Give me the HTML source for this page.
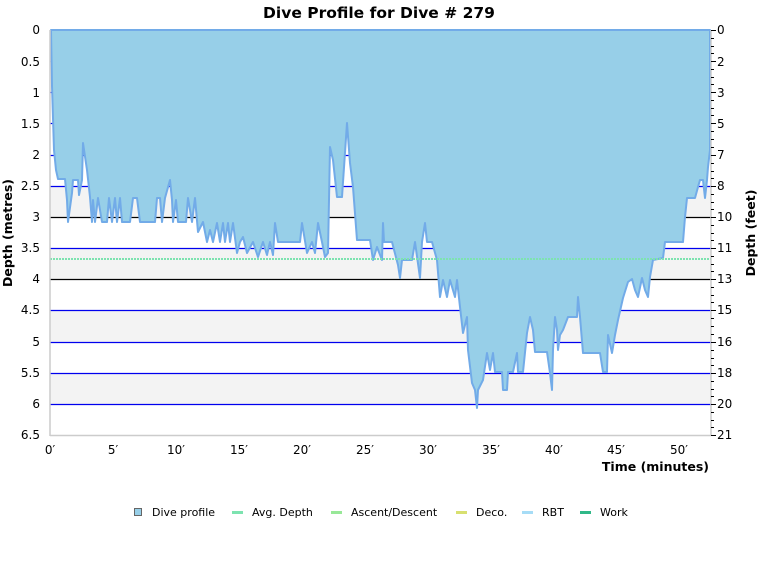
<!DOCTYPE html>
<html><head><meta charset="utf-8"><style>
body{margin:0;background:#fff;}
svg text{font-family:"DejaVu Sans","Liberation Sans",sans-serif;}
</style></head><body>
<svg width="760" height="580" xmlns="http://www.w3.org/2000/svg">
<rect width="760" height="580" fill="#fff"/>
<text x="379" y="18" text-anchor="middle" font-size="15.5" font-weight="bold" fill="#000">Dive Profile for Dive # 279</text>
<g fill="#f3f3f3">
<rect x="50" y="186" width="661" height="31"/>
<rect x="50" y="248" width="661" height="31"/>
<rect x="50" y="310" width="661" height="32"/>
<rect x="50" y="373" width="661" height="31"/>
</g>
<g stroke="#0000ee" stroke-width="1.2">
<line x1="50" x2="711" y1="61.5" y2="61.5"/><line x1="50" x2="711" y1="92.5" y2="92.5"/>
<line x1="50" x2="711" y1="123.5" y2="123.5"/><line x1="50" x2="711" y1="155.5" y2="155.5"/>
<line x1="50" x2="711" y1="186.5" y2="186.5"/><line x1="50" x2="711" y1="248.5" y2="248.5"/>
<line x1="50" x2="711" y1="310.5" y2="310.5"/><line x1="50" x2="711" y1="342.5" y2="342.5"/>
<line x1="50" x2="711" y1="373.5" y2="373.5"/><line x1="50" x2="711" y1="404.5" y2="404.5"/>
</g>
<g stroke="#000" stroke-width="1.2">
<line x1="50" x2="711" y1="217.5" y2="217.5"/><line x1="50" x2="711" y1="279.5" y2="279.5"/>
</g>
<path fill="#97cfe8" stroke="#72abe8" stroke-width="2" stroke-linejoin="round" d="M51,30 L52,86 L54,150 L56,170 L58,179 L65,179 L67,200 L68,222 L72,193 L73,180 L78,180 L79,195 L82,180 L83,143 L87,170 L90,197 L92,222 L93,200 L95,222 L98,198 L102,222 L107,222 L109,198 L112,222 L115,198 L117,222 L120,198 L122,222 L130,222 L133,198 L137,198 L140,222 L155,222 L157,198 L160,198 L162,222 L165,198 L170,180 L172,200 L173,222 L176,200 L178,222 L186,222 L188,198 L192,222 L195,198 L198,232 L203,222 L207,242 L210,230 L213,242 L217,223 L220,242 L223,223 L225,242 L228,223 L230,242 L233,223 L237,253 L240,242 L243,237 L247,253 L253,242 L258,257 L263,242 L267,255 L270,242 L273,255 L275,223 L278,242 L300,242 L302,223 L307,253 L312,242 L315,253 L318,223 L322,242 L325,257 L328,253 L330,147 L333,160 L337,197 L342,197 L347,123 L350,163 L353,187 L357,240 L370,240 L373,260 L377,247 L382,260 L383,223 L384,242 L392,242 L398,265 L400,278 L402,260 L412,260 L415,242 L420,278 L422,242 L425,223 L427,242 L432,242 L437,260 L440,297 L443,280 L447,297 L450,280 L455,297 L457,280 L460,307 L463,333 L467,317 L468,350 L472,383 L475,390 L477,408 L478,390 L483,380 L487,353 L490,370 L493,353 L495,372 L502,372 L503,390 L507,390 L508,372 L513,372 L517,353 L518,372 L523,372 L527,333 L530,317 L533,330 L535,352 L547,352 L550,373 L552,390 L553,350 L555,317 L557,330 L558,350 L560,335 L563,330 L568,317 L577,317 L578,297 L580,317 L583,353 L600,353 L603,372 L607,372 L608,335 L612,353 L615,335 L618,320 L623,298 L628,282 L632,279 L635,290 L638,297 L642,278 L645,290 L648,297 L650,277 L653,260 L663,258 L665,242 L683,242 L685,217 L687,198 L695,198 L698,187 L700,180 L703,180 L705,198 L707,180 L708,167 L710,150 L710,30 Z"/>
<line x1="50" x2="711" y1="259" y2="259" stroke="#7de3b0" stroke-width="2" stroke-dasharray="2,1"/>
<g stroke="#ccc" stroke-width="1.5" fill="none">
<line x1="50" x2="50" y1="30" y2="436"/><line x1="50" x2="711" y1="435.5" y2="435.5"/><line x1="711" x2="711" y1="30" y2="436"/>
</g>
<g font-size="12" fill="#000" text-anchor="end">
<text x="40" y="34">0</text><text x="40" y="66">0.5</text><text x="40" y="97">1</text><text x="40" y="128">1.5</text>
<text x="40" y="159">2</text><text x="40" y="190">2.5</text><text x="40" y="221">3</text><text x="40" y="252">3.5</text>
<text x="40" y="283">4</text><text x="40" y="314">4.5</text><text x="40" y="346">5</text><text x="40" y="377">5.5</text>
<text x="40" y="408">6</text><text x="40" y="439">6.5</text>
</g>
<g font-size="12" fill="#000">
<text x="717" y="34">0</text><text x="717" y="66">2</text><text x="717" y="97">3</text><text x="717" y="128">5</text>
<text x="717" y="159">7</text><text x="717" y="190">8</text><text x="717" y="221">10</text><text x="717" y="252">11</text>
<text x="717" y="283">13</text><text x="717" y="314">15</text><text x="717" y="346">16</text><text x="717" y="377">18</text>
<text x="717" y="408">20</text><text x="717" y="439">21</text>
</g>
<g stroke="#000" stroke-width="1">
<path d="M711,30.5h5M711,61.5h5M711,92.5h5M711,123.5h5M711,155.5h5M711,186.5h5M711,217.5h5M711,248.5h5M711,279.5h5M711,310.5h5M711,342.5h5M711,373.5h5M711,404.5h5M711,435.5h5"/>
<path d="M711,38.5h3M711,46.5h3M711,53.5h3M711,69.5h3M711,77.5h3M711,84.5h3M711,100.5h3M711,108.5h3M711,115.5h3M711,131.5h3M711,139.5h3M711,147.5h3M711,163.5h3M711,171.5h3M711,178.5h3M711,194.5h3M711,202.5h3M711,209.5h3M711,225.5h3M711,233.5h3M711,240.5h3M711,256.5h3M711,264.5h3M711,271.5h3M711,287.5h3M711,295.5h3M711,302.5h3M711,318.5h3M711,326.5h3M711,334.5h3M711,350.5h3M711,358.5h3M711,365.5h3M711,381.5h3M711,389.5h3M711,396.5h3M711,412.5h3M711,420.5h3M711,427.5h3"/>
</g>
<g font-size="12" fill="#000" text-anchor="middle">
<text x="50" y="454">0′</text><text x="113" y="454">5′</text><text x="176" y="454">10′</text><text x="239" y="454">15′</text>
<text x="302" y="454">20′</text><text x="365" y="454">25′</text><text x="428" y="454">30′</text><text x="491" y="454">35′</text>
<text x="554" y="454">40′</text><text x="616" y="454">45′</text><text x="679" y="454">50′</text>
</g>
<text x="709" y="471" text-anchor="end" font-size="12.5" font-weight="bold">Time (minutes)</text>
<text transform="translate(12,233) rotate(-90)" text-anchor="middle" font-size="12.5" font-weight="bold">Depth (metres)</text>
<text transform="translate(755,233) rotate(-90)" text-anchor="middle" font-size="12.5" font-weight="bold">Depth (feet)</text>
<g font-size="11" fill="#000">
<rect x="134.5" y="508.5" width="7" height="7" fill="#97cfe8" stroke="#666"/>
<text x="152" y="516">Dive profile</text>
<rect x="232" y="511" width="11" height="3" fill="#7de3b0"/><text x="252" y="516">Avg. Depth</text>
<rect x="331" y="511" width="11" height="3" fill="#98e898"/><text x="351" y="516">Ascent/Descent</text>
<rect x="456" y="511" width="11" height="3" fill="#d8e070"/><text x="476" y="516">Deco.</text>
<rect x="522" y="511" width="11" height="3" fill="#a6dcf6"/><text x="542" y="516">RBT</text>
<rect x="580" y="511" width="11" height="3" fill="#30b888"/><text x="600" y="516">Work</text>
</g>
</svg>
</body></html>
